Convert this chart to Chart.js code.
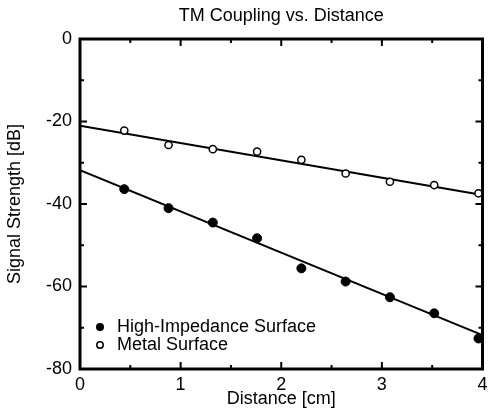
<!DOCTYPE html>
<html>
<head>
<meta charset="utf-8">
<script src="https://cdn.jsdelivr.net/npm/chart.js@4.4.0/dist/chart.umd.min.js"></script>
<style>
    html, body { margin: 0; padding: 0; background: #fff; }
</style>
</head>
<body>
<canvas id="chart" width="488" height="412"></canvas>
<script>
// distance [cm] of each measurement
const distances = [0.44, 0.88, 1.32, 1.76, 2.2, 2.64, 3.08, 3.52, 3.96];
const highImpedance = [-36.4, -41.0, -44.5, -48.3, -55.6, -58.8, -62.6, -66.5, -72.6];
const metal = [-22.2, -25.7, -26.7, -27.3, -29.3, -32.6, -34.6, -35.4, -37.4];

// fitted lines, ends only
const fitX = [0, 4];
const highFit = [-31.8, -71.8];
const metalFit = [-21.0, -37.8];

const xTickMajor = [0, 1, 2, 3, 4];
const xTickMinor = [0.5, 1.5, 2.5, 3.5];
const yTickMajor = [-80, -60, -40, -20, 0];
const yTickMinor = [-70, -50, -30, -10];

const FONT = "'Liberation Sans', Arial, sans-serif";

function pts(xs, ys) {
    return xs.map((x, i) => ({ x: x, y: ys[i] }));
}

// frame with inward ticks + legend inside plot
const framePlugin = {
    id: 'frame',
    afterDatasetsDraw(chart) {
        const ctx = chart.ctx;
        const a = chart.chartArea;
        const xs = chart.scales.x, ys = chart.scales.y;
        ctx.save();
        ctx.strokeStyle = '#000';
        ctx.lineWidth = 2;
        const tick = (list, len) => {
            list.forEach(v => {
                let px = xs.getPixelForValue(v);
                ctx.beginPath();
                ctx.moveTo(px, a.top); ctx.lineTo(px, a.top + len);
                ctx.moveTo(px, a.bottom); ctx.lineTo(px, a.bottom - len);
                ctx.stroke();
            });
        };
        const tickY = (list, len) => {
            list.forEach(v => {
                let py = ys.getPixelForValue(v);
                ctx.beginPath();
                ctx.moveTo(a.left, py); ctx.lineTo(a.left + len, py);
                ctx.moveTo(a.right, py); ctx.lineTo(a.right - len, py);
                ctx.stroke();
            });
        };
        tick(xTickMajor, 7);
        tick(xTickMinor, 4);
        tickY(yTickMajor, 7);
        tickY(yTickMinor, 4);

        ctx.lineWidth = 3;
        ctx.strokeRect(a.left, a.top, a.right - a.left, a.bottom - a.top);

        // legend
        ctx.font = '18px ' + FONT;
        ctx.textBaseline = 'middle';
        ctx.fillStyle = '#000';
        ctx.beginPath();
        ctx.arc(100, 327, 4, 0, Math.PI * 2);
        ctx.fill();
        ctx.fillText('High-Impedance Surface', 117, 327);
        ctx.beginPath();
        ctx.lineWidth = 1.5;
        ctx.arc(100, 345, 3.2, 0, Math.PI * 2);
        ctx.stroke();
        ctx.fillText('Metal Surface', 117, 345);
        ctx.restore();
    }
};

new Chart(document.getElementById('chart'), {
    type: 'scatter',
    data: {
        datasets: [
            {
                label: 'High-Impedance Surface',
                data: pts(distances, highImpedance),
                pointRadius: 4.5,
                pointBackgroundColor: '#000',
                pointBorderColor: '#000',
                pointBorderWidth: 1,
                order: 1,
            },
            {
                label: 'Metal Surface',
                data: pts(distances, metal),
                pointRadius: 3.6,
                pointBackgroundColor: '#fff',
                pointBorderColor: '#000',
                pointBorderWidth: 1.5,
                order: 1,
            },
            {
                label: 'high fit',
                data: pts(fitX, highFit),
                showLine: true,
                pointRadius: 0,
                borderColor: '#000',
                borderWidth: 2,
                order: 2,
            },
            {
                label: 'metal fit',
                data: pts(fitX, metalFit),
                showLine: true,
                pointRadius: 0,
                borderColor: '#000',
                borderWidth: 2,
                order: 2,
            },
        ]
    },
    options: {
        responsive: false,
        animation: false,
        layout: { padding: { left: 0, right: 3, top: 0, bottom: 0 } },
        plugins: {
            legend: { display: false },
            tooltip: { enabled: false },
            title: { display: false },
        },
        scales: {
            // top axis only carries the chart title, centred over the plot
            top: {
                type: 'linear',
                position: 'top',
                min: 0,
                max: 4,
                afterFit(scale) {
                    scale.height = 39;
                    scale.paddingLeft = 0;
                    scale.paddingRight = 0;
                },
                ticks: { display: false },
                grid: { display: false, drawTicks: false },
                border: { display: false },
                title: {
                    display: true,
                    text: 'TM Coupling vs. Distance',
                    color: '#000',
                    font: { family: FONT, size: 18 },
                    padding: { top: 5, bottom: 0 },
                },
            },
            x: {
                type: 'linear',
                min: 0,
                max: 4,
                afterFit(scale) {
                    scale.height = 43;
                    scale.paddingLeft = 0;
                    scale.paddingRight = 0;
                },
                ticks: {
                    stepSize: 1,
                    color: '#000',
                    padding: 5,
                    font: { family: FONT, size: 18 },
                    maxRotation: 0,
                },
                grid: { display: false, drawTicks: false },
                border: { display: false },
                title: {
                    display: true,
                    text: 'Distance [cm]',
                    color: '#000',
                    font: { family: FONT, size: 18 },
                    padding: { top: 0, bottom: 2 },
                },
            },
            y: {
                min: -80,
                max: 0,
                afterFit(scale) {
                    scale.width = 80;
                    scale.paddingTop = 0;
                    scale.paddingBottom = 0;
                },
                ticks: {
                    stepSize: 20,
                    color: '#000',
                    padding: 8,
                    font: { family: FONT, size: 18 },
                },
                grid: { display: false, drawTicks: false },
                border: { display: false },
                title: {
                    display: true,
                    text: 'Signal Strength [dB]',
                    color: '#000',
                    font: { family: FONT, size: 18 },
                    padding: { top: 4, bottom: 0 },
                },
            },
        },
    },
    plugins: [framePlugin],
});
</script>
</body>
</html>
